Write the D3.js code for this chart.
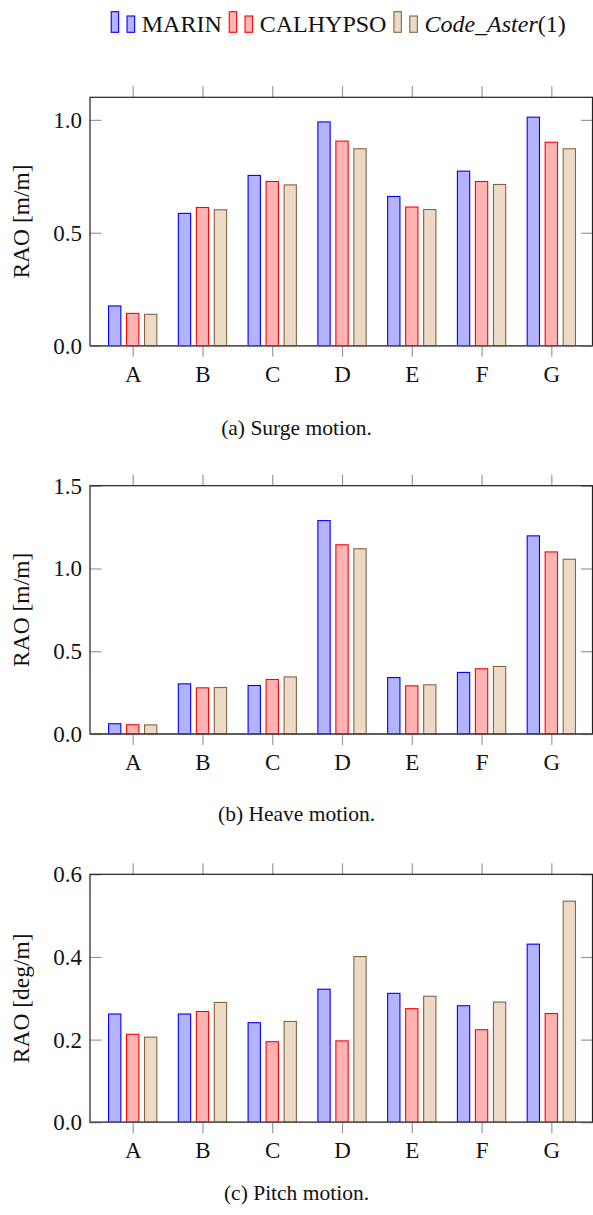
<!DOCTYPE html>
<html>
<head>
<meta charset="utf-8">
<script src="https://cdn.jsdelivr.net/npm/d3@7"></script>
<style>
  html, body { margin: 0; padding: 0; background: #fff; }
  svg text { font-family: "Liberation Serif", "DejaVu Serif", serif !important; fill: #111; }
</style>
</head>
<body>
<svg id="chart" width="593" height="1215"></svg>
<script>
// ---------- data ----------
const categories = ["A", "B", "C", "D", "E", "F", "G"];
const seriesNames = ["MARIN", "CALHYPSO", "Code_Aster(1)"];

const surgeMarin    = [0.176, 0.586, 0.754, 0.991, 0.661, 0.773, 1.012];
const surgeCalhypso = [0.143, 0.612, 0.727, 0.906, 0.614, 0.727, 0.901];
const surgeAster    = [0.139, 0.602, 0.712, 0.872, 0.603, 0.714, 0.872];

const heaveMarin    = [0.062, 0.303, 0.293, 1.289, 0.341, 0.372, 1.197];
const heaveCalhypso = [0.056, 0.279, 0.329, 1.143, 0.291, 0.394, 1.100];
const heaveAster    = [0.055, 0.281, 0.345, 1.119, 0.297, 0.408, 1.056];

const pitchMarin    = [0.262, 0.262, 0.241, 0.322, 0.312, 0.282, 0.431];
const pitchCalhypso = [0.213, 0.268, 0.195, 0.197, 0.275, 0.224, 0.263];
const pitchAster    = [0.206, 0.290, 0.244, 0.401, 0.305, 0.291, 0.535];

const surgeTicks = [0, 0.5, 1.0];
const heaveTicks = [0, 0.5, 1.0, 1.5];
const pitchTicks = [0, 0.2, 0.4, 0.6];

const panels = [
  { series: [surgeMarin, surgeCalhypso, surgeAster], yMax: 1.1, ticks: surgeTicks,
    ylabel: "RAO [m/m]", caption: "(a) Surge motion." },
  { series: [heaveMarin, heaveCalhypso, heaveAster], yMax: 1.5, ticks: heaveTicks,
    ylabel: "RAO [m/m]", caption: "(b) Heave motion." },
  { series: [pitchMarin, pitchCalhypso, pitchAster], yMax: 0.6, ticks: pitchTicks,
    ylabel: "RAO [deg/m]", caption: "(c) Pitch motion." }
];

// ---------- styles / layout ----------
const FONT = "Liberation Serif, DejaVu Serif, serif";
const fills   = ["#b3b3ff", "#ffb3b3", "#ecd9c6"];
const strokes = ["#0000ff", "#ff0000", "#86653f"];
const left = 90, right = 592.5;
const panelTops    = [97.3, 485.7, 874.3];
const panelBottoms = [345.7, 734, 1122.3];
const captionY     = [435, 821, 1200];
const barW = 12.3, barShift = 18;
const fontAxis = 23, fontLegend = 24, fontCap = 21.5;

const svg = d3.select("#chart");

const x = d3.scaleLinear().domain([-0.612, 6.59]).range([left, right]);
const idx = d3.range(categories.length);

panels.forEach((p, k) => {
  const top = panelTops[k], bottom = panelBottoms[k];
  const y = d3.scaleLinear().domain([0, p.yMax]).range([bottom, top]);
  const g = svg.append("g");

  // bars
  p.series.forEach((vals, j) => {
    g.append("g").selectAll("rect")
      .data(vals)
      .join("rect")
      .attr("x", (d, i) => x(i) + (j - 1) * barShift - barW / 2)
      .attr("y", d => y(d))
      .attr("width", barW)
      .attr("height", d => y(0) - y(d))
      .attr("fill", fills[j])
      .attr("stroke", strokes[j])
      .attr("stroke-width", 1.1);
  });

  // axes
  const yl = g.append("g").attr("transform", `translate(${left},0)`)
    .call(d3.axisLeft(y).tickValues(p.ticks).tickFormat(d3.format(".1f"))
      .tickSizeInner(-11.5).tickSizeOuter(0).tickPadding(8));
  const yr = g.append("g").attr("transform", `translate(${right},0)`)
    .call(d3.axisRight(y).tickValues(p.ticks).tickFormat("")
      .tickSizeInner(-11.5).tickSizeOuter(0));
  const xb = g.append("g").attr("transform", `translate(0,${bottom})`)
    .call(d3.axisBottom(x).tickValues(idx).tickFormat(i => categories[i])
      .tickSizeInner(11).tickSizeOuter(0).tickPadding(8.7));
  const xt = g.append("g").attr("transform", `translate(0,${top})`)
    .call(d3.axisTop(x).tickValues(idx).tickFormat("")
      .tickSizeInner(11).tickSizeOuter(0));

  [yl, yr, xb, xt].forEach(a => {
    a.attr("font-family", FONT).attr("font-size", fontAxis);
    a.select(".domain").remove();
    a.selectAll(".tick line").attr("stroke", "#9a9a9a").attr("stroke-width", 1.2);
    a.selectAll(".tick text")
      .attr("font-family", FONT)
      .attr("font-size", fontAxis)
      .attr("fill", "#111");
  });

  // frame
  g.append("rect")
    .attr("x", left).attr("y", top)
    .attr("width", right - left).attr("height", bottom - top)
    .attr("fill", "none").attr("stroke", "#222").attr("stroke-width", 1.2);
  g.append("line")
    .attr("x1", left).attr("x2", right).attr("y1", bottom).attr("y2", bottom)
    .attr("stroke", "#555").attr("stroke-width", 1.6);

  // y label
  svg.append("text")
    .attr("transform", `translate(29,${(top + bottom) / 2}) rotate(-90)`)
    .attr("text-anchor", "middle")
    .attr("font-family", FONT)
    .attr("font-size", fontAxis + 0.5)
    .text(p.ylabel);

  // caption
  svg.append("text")
    .attr("x", 296.5).attr("y", captionY[k])
    .attr("text-anchor", "middle")
    .attr("font-family", FONT)
    .attr("font-size", fontCap)
    .text(p.caption);
});

// ---------- legend ----------
const legend = svg.append("g");
let cx = 0;
const baseY = 32.3;
seriesNames.forEach((name, j) => {
  const item = legend.append("g").attr("transform", `translate(${cx},0)`);
  item.append("rect").attr("x", 0).attr("y", baseY - 20.6).attr("width", 7.4).attr("height", 20.6)
    .attr("fill", fills[j]).attr("stroke", strokes[j]).attr("stroke-width", 1.1);
  item.append("rect").attr("x", 15.8).attr("y", baseY - 16.3).attr("width", 7.6).attr("height", 16.3)
    .attr("fill", fills[j]).attr("stroke", strokes[j]).attr("stroke-width", 1.1);
  const t = item.append("text").attr("x", 30.5).attr("y", baseY)
    .attr("font-family", FONT).attr("font-size", fontLegend);
  if (name === "Code_Aster(1)") {
    t.append("tspan").attr("font-style", "italic").text("Code_Aster");
    t.append("tspan").text("(1)");
  } else {
    t.text(name);
  }
  const w = t.node().getComputedTextLength();
  cx += 30.5 + w + 7.5;
});
const totalW = cx - 7.5;
legend.attr("transform", `translate(${338.5 - totalW / 2},0)`);
</script>
</body>
</html>
